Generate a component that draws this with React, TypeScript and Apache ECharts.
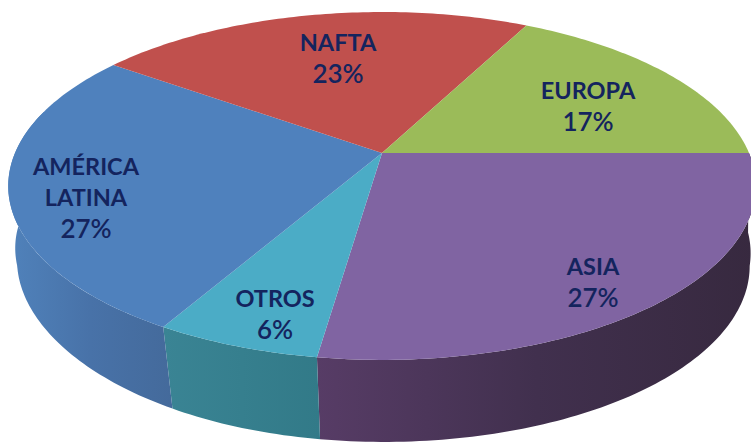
import React, { useEffect, useRef } from "react";
import * as echarts from "echarts";

const regions = ["ASIA", "OTROS", "AMÉRICA\nLATINA", "NAFTA", "EUROPA"];
const shares = [27.3, 6.0, 26.6, 22.7, 17.4];

const topColors = ["#8064a2", "#4bacc6", "#4f81bd", "#c0504d", "#9bbb59"];
const sideStops: (string[] | null)[] = [
  ["#573c66", "#41304e", "#37293f"],
  ["#3a8494", "#367f8e", "#327a88"],
  ["#5082bb", "#4872a8", "#446a9b"],
  null,
  null,
];
const labelAnchors = [
  [593, 281],
  [275, 313],
  [86, 197],
  [338, 57],
  [588, 105],
];

const APEX_X = 382;
const APEX_Y = 153;
const AX = 367;
const AY = 167.7;
const K = 0.1895;

const project = (deg: number) => {
  const t = (deg * Math.PI) / 180;
  const u = Math.cos(t);
  const v = Math.sin(t);
  const w = 1 - K * v;
  return [APEX_X + (AX * u) / w, APEX_Y + (AY * v) / w];
};
const toLower = (p: number[]) => {
  const x = 381 + ((p[0] - 379.5) / 371.5) * 364;
  const y = 266 + ((p[1] - 186) / 174) * 176;
  const leftPart = Math.max(0, (381 - x) / 364);
  const shear = y < 266 ? 0.22 : 0.07;
  const leftShift = shear * (y - 266) * leftPart * leftPart;
  const rightShift = x > 381 ? 0.15 * Math.max(0, 266 - y) : 0;
  return [x + leftShift + rightShift, y];
};
const arcPoints = (a: number, b: number) => {
  const pts: number[][] = [];
  const n = Math.max(2, Math.ceil(Math.abs(b - a)));
  for (let i = 0; i <= n; i++) pts.push(project(a + ((b - a) * i) / n));
  return pts;
};

const total = shares.reduce((s, v) => s + v, 0);
const bounds: number[] = [0];
shares.forEach((v, i) => bounds.push(bounds[i] + (v / total) * 360));

const LEFT_LIMIT = 195;

export default function App() {
  const ref = useRef<HTMLDivElement>(null);
  useEffect(() => {
    document.body.style.margin = "0";
    document.body.style.background = "#ffffff";
    const chart = echarts.init(ref.current!, null, { renderer: "svg" });
    const rows = shares.map((v, i) => ({ value: [i, v], name: regions[i].replace("\n", " ") }));
    chart.setOption({
      animation: false,
      backgroundColor: "#ffffff",
      series: [
        {
          type: "custom",
          coordinateSystem: "none",
          silent: true,
          z: 1,
          data: rows,
          renderItem: (_: any, api: any) => {
            const i = api.value(0);
            const stops = sideStops[i];
            if (!stops) return { type: "group", children: [] };
            const a = bounds[i];
            const b = Math.min(bounds[i + 1], LEFT_LIMIT);
            const upper = arcPoints(a, b);
            const lower = upper.map(toLower).reverse();
            return {
              type: "polygon",
              shape: { points: [...upper, ...lower] },
              style: {
                fill: new echarts.graphic.LinearGradient(
                  0, 0, 1, 0,
                  stops.map((c, j) => ({ offset: j / (stops.length - 1), color: c }))
                ),
              },
            };
          },
        },
        {
          type: "custom",
          coordinateSystem: "none",
          silent: true,
          z: 2,
          data: rows,
          renderItem: (_: any, api: any) => {
            const i = api.value(0);
            return {
              type: "polygon",
              shape: { points: [[APEX_X, APEX_Y], ...arcPoints(bounds[i], bounds[i + 1])] },
              style: { fill: topColors[i] },
            };
          },
        },
        {
          type: "custom",
          coordinateSystem: "none",
          silent: true,
          z: 3,
          data: rows,
          renderItem: (_: any, api: any) => {
            const i = api.value(0);
            const pct = Math.round(api.value(1));
            return {
              type: "text",
              x: labelAnchors[i][0],
              y: labelAnchors[i][1],
              style: {
                text: regions[i].split("\n").map((l) => `{n|${l}}`).join("\n") + `\n{p|${pct}%}`,
                align: "center",
                verticalAlign: "middle",
                fill: "#14245e",
                rich: {
                  n: { fontFamily: "Lato", fontWeight: 700, fontSize: 23.5, lineHeight: 31, fill: "#14245e" },
                  p: { fontFamily: "Lato", fontWeight: 600, fontSize: 26, lineHeight: 31, fill: "#14245e" },
                },
              },
            };
          },
        },
      ],
    });
    return () => chart.dispose();
  }, []);
  return <div ref={ref} style={{ width: 751, height: 443 }} />;
}
